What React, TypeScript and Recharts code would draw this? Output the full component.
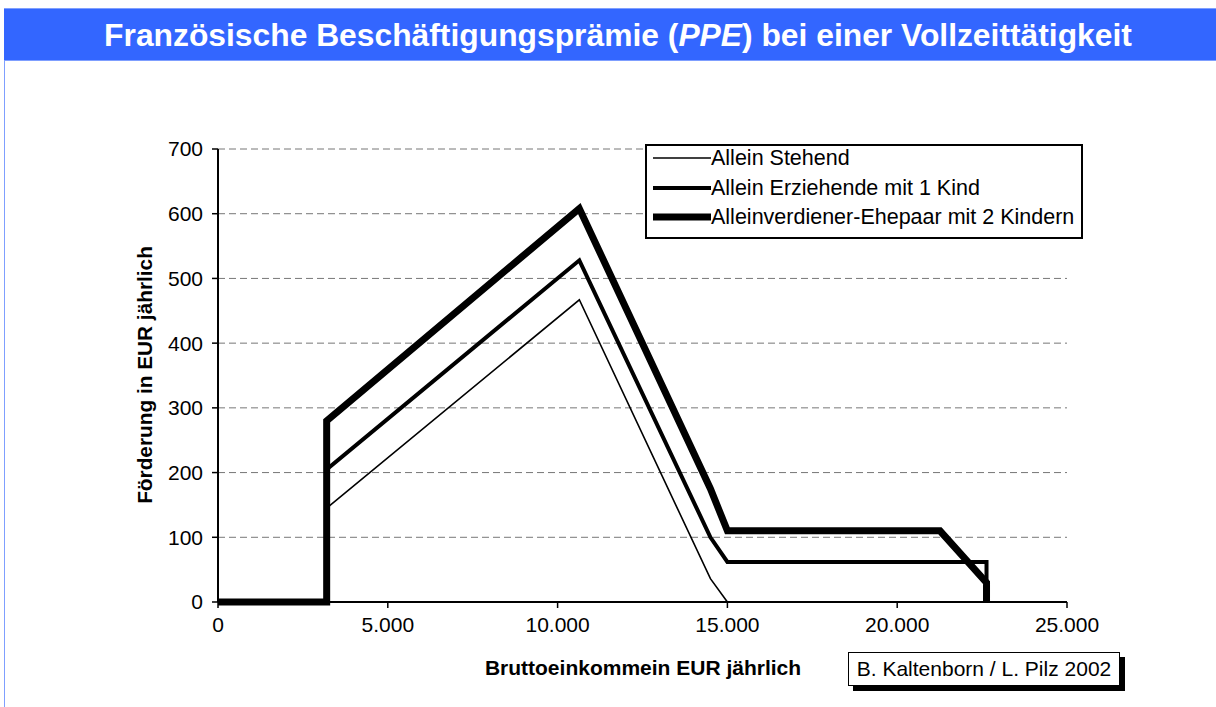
import { LineChart, Line, XAxis, YAxis, CartesianGrid } from 'recharts';

// Allein Stehend
const stehendX = [0, 3200, 3200, 10640, 14500, 15000];
const stehendY = [0, 0, 145, 467, 36, 0];
// Allein Erziehende mit 1 Kind
const erziehendeX = [0, 3200, 3200, 10640, 14500, 15000, 22630, 22630];
const erziehendeY = [0, 0, 205, 528, 100, 62, 62, 0];
// Alleinverdiener-Ehepaar mit 2 Kindern
const ehepaarX = [0, 3200, 3200, 10640, 14500, 15000, 21260, 22630, 22630];
const ehepaarY = [0, 0, 280, 608, 175, 110, 110, 30, 0];

const xTicks = [0, 5000, 10000, 15000, 20000, 25000];
const yTicks = [0, 100, 200, 300, 400, 500, 600, 700];

const seriesNames = [
  'Allein Stehend',
  'Allein Erziehende mit 1 Kind',
  'Alleinverdiener-Ehepaar mit 2 Kindern',
];
const seriesWidths = [1.6, 4, 7];

const FONT = '"Liberation Sans", Arial, sans-serif';

const toPoints = (xs: number[], ys: number[]) => xs.map((x, i) => ({ x, y: ys[i] }));

const fmtThousands = (v: number) =>
  v === 0 ? '0' : v.toLocaleString('de-DE', { maximumFractionDigits: 0 }).replace(/\u00a0/g, '.');

function LegendBox() {
  return (
    <div
      style={{
        position: 'absolute',
        left: 645,
        top: 144,
        width: 438,
        height: 95,
        boxSizing: 'border-box',
        border: '2px solid #000',
        background: '#fff',
        fontFamily: FONT,
        fontSize: 21.5,
        color: '#000',
      }}
    >
      {seriesNames.map((name, i) => (
        <div
          key={name}
          style={{
            position: 'absolute',
            left: 4,
            top: 12 + 29.5 * i - 12,
            height: 24,
            lineHeight: '24px',
            display: 'flex',
            alignItems: 'center',
            whiteSpace: 'nowrap',
          }}
        >
          <svg width={60} height={12}>
            <line x1={2} y1={6} x2={60} y2={6} stroke="#000" strokeWidth={seriesWidths[i]} />
          </svg>
          <span>{name}</span>
        </div>
      ))}
    </div>
  );
}

export default function App() {
  const lines = [
    toPoints(stehendX, stehendY),
    toPoints(erziehendeX, erziehendeY),
    toPoints(ehepaarX, ehepaarY),
  ];

  return (
    <div style={{ position: 'absolute', left: 0, top: 0, width: 1216, height: 707, background: '#fff', overflow: 'hidden' }}>
      {/* title bar */}
      <div style={{ position: 'absolute', left: 4, top: 8, right: 0, height: 1, background: '#7f9fff' }} />
      <div
        style={{
          position: 'absolute',
          left: 4,
          top: 9,
          right: 0,
          height: 51,
          paddingLeft: 16,
          background: '#3366ff',
          color: '#fff',
          fontFamily: FONT,
          fontWeight: 'bold',
          fontSize: 31.8,
          lineHeight: '52px',
          textAlign: 'center',
          whiteSpace: 'nowrap',
        }}
      >
        Französische Beschäftigungsprämie (<i>PPE</i>) bei einer Vollzeittätigkeit
      </div>
      <div style={{ position: 'absolute', left: 4, top: 60, right: 0, height: 1, background: '#7f9fff' }} />
      <div style={{ position: 'absolute', left: 4, top: 60, width: 1, bottom: 0, background: '#7f9fff' }} />

      <div style={{ position: 'absolute', left: 0, top: 0 }}>
        <LineChart width={1216} height={707} margin={{ top: 149, right: 149, bottom: 75, left: 148 }}>
          <CartesianGrid vertical={false} stroke="#777" strokeDasharray="7 4" />
          <XAxis
            type="number"
            dataKey="x"
            domain={[0, 25000]}
            ticks={xTicks}
            tickFormatter={fmtThousands}
            allowDuplicatedCategory={false}
            height={30}
            tickSize={6}
            tickMargin={9}
            axisLine={{ stroke: '#000', strokeWidth: 2 }}
            tickLine={{ stroke: '#000', strokeWidth: 1.5 }}
            tick={{ fill: '#000', fontFamily: FONT, fontSize: 21 }}
          />
          <YAxis
            type="number"
            dataKey="y"
            domain={[0, 700]}
            ticks={yTicks}
            width={70}
            tickSize={6}
            tickMargin={9}
            axisLine={{ stroke: '#000', strokeWidth: 2 }}
            tickLine={{ stroke: '#000', strokeWidth: 1.5 }}
            tick={{ fill: '#000', fontFamily: FONT, fontSize: 21 }}
          />
          {lines.map((pts, i) => (
            <Line
              key={seriesNames[i]}
              data={pts}
              dataKey="y"
              name={seriesNames[i]}
              type="linear"
              stroke="#000"
              strokeWidth={seriesWidths[i]}
              strokeLinejoin="miter"
              dot={false}
              activeDot={false}
              isAnimationActive={false}
            />
          ))}
        </LineChart>
      </div>

      <LegendBox />

      {/* axis titles */}
      <div
        style={{
          position: 'absolute',
          left: 145,
          top: 375,
          transform: 'translate(-50%, -50%) rotate(-90deg)',
          whiteSpace: 'nowrap',
          fontFamily: FONT,
          fontWeight: 'bold',
          fontSize: 20.8,
          color: '#000',
        }}
      >
        Förderung in EUR jährlich
      </div>
      <div
        style={{
          position: 'absolute',
          left: 643,
          top: 668,
          transform: 'translate(-50%, -50%)',
          whiteSpace: 'nowrap',
          fontFamily: FONT,
          fontWeight: 'bold',
          fontSize: 21,
          color: '#000',
        }}
      >
        Bruttoeinkommein EUR jährlich
      </div>

      {/* source box */}
      <div
        style={{
          position: 'absolute',
          left: 848,
          top: 652,
          width: 272,
          height: 34,
          boxSizing: 'border-box',
          border: '1px solid #000',
          background: '#fff',
          boxShadow: '5px 5px 0 #000',
          fontFamily: FONT,
          fontSize: 21,
          lineHeight: '32px',
          textAlign: 'center',
          color: '#000',
          whiteSpace: 'nowrap',
        }}
      >
        B. Kaltenborn / L. Pilz 2002
      </div>
    </div>
  );
}
